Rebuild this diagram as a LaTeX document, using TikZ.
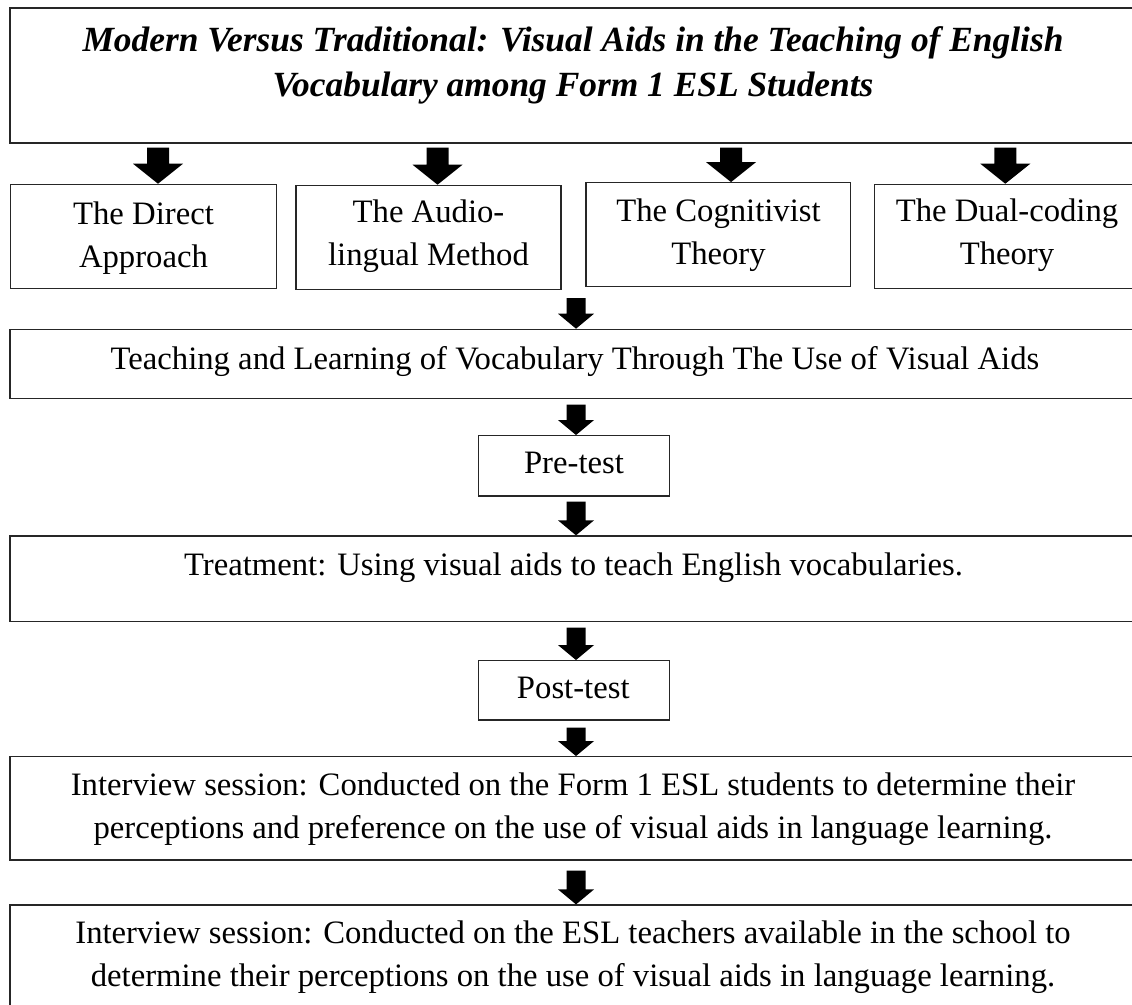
\documentclass[tikz,border=0pt]{standalone}
\usepackage{fontspec}
\setmainfont{Liberation Serif}
\usetikzlibrary{calc}
\begin{document}
\begin{tikzpicture}[x=1pt,y=-1pt,
  box/.style={draw=black!85, line width=1.2pt, rectangle, inner sep=0pt},
  txt/.style={anchor=north, inner sep=0pt, align=center, font=\fontsize{32.7}{43}\selectfont},
  ttl/.style={anchor=north, inner sep=0pt, align=center, font=\fontsize{35.4}{45}\selectfont\bfseries\itshape},
  barrow/.style n args={4}{to path={let \p1=(\tikztostart), \p2=(\tikztotarget) in
    ({\x2-#1},{\y1-#4}) -- ({\x2+#1},{\y1-#4}) -- ({\x2+#1},{\y2+#3}) -- ({\x2+#2},{\y2+#3}) -- (\x2,\y2) -- ({\x2-#2},{\y2+#3}) -- ({\x2-#1},{\y2+#3}) -- cycle}},
  bigarrow/.style={fill=black, draw=none, barrow={11pt}{25pt}{20pt}{#1}},
  smallarrow/.style={fill=black, draw=none, barrow={9.5pt}{18pt}{15pt}{#1}},
]
\useasboundingbox (0,0) rectangle (1132,1004);
\clip (0,0) rectangle (1132,1004);
\fill[white] (0,0) rectangle (1132,1004);

% x positions of the arrows
\coordinate (ax1) at (158,0);
\coordinate (ax2) at (437.5,0);
\coordinate (ax3) at (731,0);
\coordinate (ax4) at (1005.3,0);
\coordinate (ax5) at (576,0);
\coordinate (rowbot) at (576,298);

% boxes
\node[box, minimum width=1128pt, minimum height=135pt] (title) at (574,75.5) {};
\node[box, minimum width=266pt, minimum height=104pt] (b1) at (143.7,236.3) {};
\node[box, minimum width=265pt, minimum height=104pt] (b2) at (428.5,237.3) {};
\node[box, minimum width=264.7pt, minimum height=104pt] (b3) at (718.3,234.7) {};
\node[box, minimum width=264.3pt, minimum height=104pt] (b4) at (1006.8,236.3) {};
\node[box, minimum width=1128pt, minimum height=69pt] (teach) at (574,363.8) {};
\node[box, minimum width=191pt, minimum height=60.3pt] (pre) at (573.8,465.8) {};
\node[box, minimum width=1128pt, minimum height=85.7pt] (treat) at (574,578.8) {};
\node[box, minimum width=191pt, minimum height=59.3pt] (post) at (573.8,690.3) {};
\node[box, minimum width=1128pt, minimum height=103.3pt] (int1) at (574,808.3) {};
\node[box, minimum width=1128pt, minimum height=115pt] (int2) at (574,962.5) {};

% texts
\node[ttl] (ttitle) at (573,20.2) {\strut Modern Versus Traditional: Visual Aids in the Teaching of English\\\strut Vocabulary among Form 1 ESL Students};
\node[txt] (tb1) at (143.5,193.9) {\strut The Direct\\\strut Approach};
\node[txt] (tb2) at (428.5,192.6) {\strut The Audio-\\\strut lingual Method};
\node[txt] (tb3) at (718.5,191.6) {\strut The Cognitivist\\\strut Theory};
\node[txt] (tb4) at (1007,191.6) {\strut The Dual-coding\\\strut Theory};
\node[txt] (tteach) at (575,338.9) {\strut Teaching and Learning of Vocabulary Through The Use of Visual Aids};
\node[txt] (tpre) at (574,442.9) {\strut Pre-test};
\node[txt] (ttreat) at (573.5,544.9) {\strut Treatment: Using visual aids to teach English vocabularies.};
\node[txt] (tpost) at (573.3,667.9) {\strut Post-test};
\node[txt] (tint1) at (573,764.9) {\strut Interview session: Conducted on the Form 1 ESL students to determine their\\\strut perceptions and preference on the use of visual aids in language learning.};
\node[txt] (tint2) at (573,913.2) {\strut Interview session: Conducted on the ESL teachers available in the school to\\\strut determine their perceptions on the use of visual aids in language learning.};

% arrows
\path[bigarrow=4pt] (title.south) to (b1.north -| ax1);
\path[bigarrow=4pt] (title.south) to (b2.north -| ax2);
\path[bigarrow=4pt] (title.south) to (b3.north -| ax3);
\path[bigarrow=4pt] (title.south) to (b4.north -| ax4);
\path[smallarrow=0pt] (rowbot) to (teach.north -| ax5);
\path[smallarrow=5.7pt] (teach.south) to (pre.north -| ax5);
\path[smallarrow=5pt] (pre.south) to (treat.north -| ax5);
\path[smallarrow=5.3pt] (treat.south) to (post.north -| ax5);
\path[smallarrow=7pt] (post.south) to (int1.north -| ax5);
\path[smallarrow=10pt] (int1.south) to (int2.north -| ax5);
\end{tikzpicture}
\end{document}
